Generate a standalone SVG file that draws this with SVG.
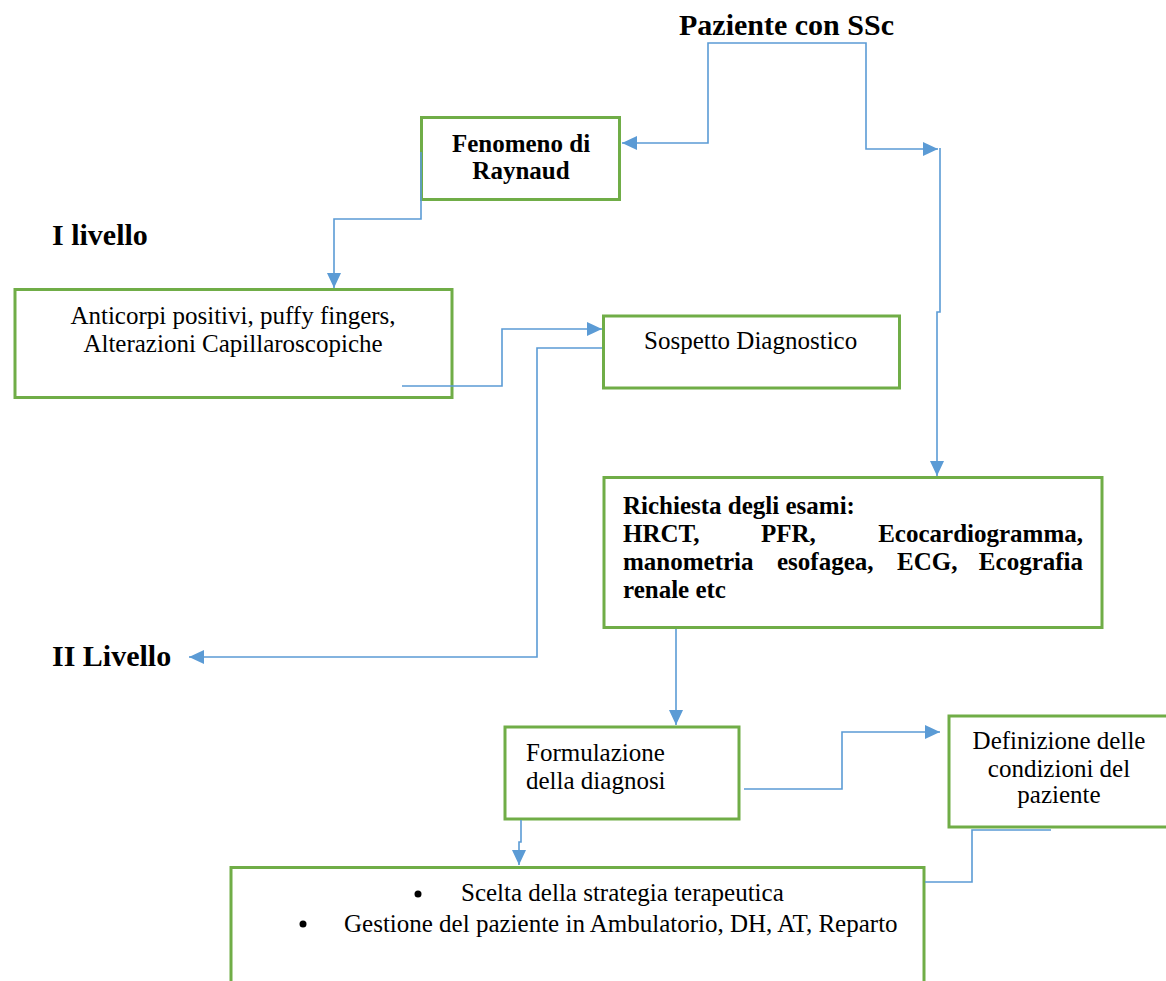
<svg xmlns="http://www.w3.org/2000/svg" width="1166" height="981" viewBox="0 0 1166 981">
<style>
.box{fill:#fff;stroke:#70AD47;stroke-width:3}
.con{fill:none;stroke:#5B9BD5;stroke-width:1.6}
.t{font-family:"Liberation Serif","Times New Roman",serif;font-size:25px;fill:#000}
.b{font-weight:bold}
.h{font-family:"Liberation Serif","Times New Roman",serif;font-size:30px;font-weight:bold;fill:#000}
.m{text-anchor:middle}
.e{text-anchor:end}
</style>
<defs>
<marker id="arr" markerUnits="userSpaceOnUse" markerWidth="16" markerHeight="14" refX="15" refY="7" orient="auto">
<path d="M0,0 L15,7 L0,14 Z" fill="#5B9BD5"/>
</marker>
</defs>
<rect width="1166" height="981" fill="#fff"/>
<g id="labels">
<text class="h" x="679" y="35">Paziente con SSc</text>
<text class="h" x="52" y="245">I livello</text>
<text class="h" x="52" y="666">II Livello</text>
</g>
<g id="fenomeno">
<rect class="box" x="421.5" y="117.5" width="198" height="82"/>
<text class="t b m" x="521" y="151.5">Fenomeno di</text>
<text class="t b m" x="521" y="178.5">Raynaud</text>
</g>
<g id="anticorpi">
<rect class="box" x="15" y="289.5" width="437" height="108"/>
<text class="t m" x="233" y="324">Anticorpi positivi, puffy fingers,</text>
<text class="t m" x="233" y="352">Alterazioni Capillaroscopiche</text>
</g>
<g id="sospetto">
<rect class="box" x="603.5" y="316" width="296" height="72"/>
<text class="t" x="644" y="349">Sospetto Diagnostico</text>
</g>
<g id="richiesta">
<rect class="box" x="604" y="477.5" width="498" height="150"/>
<text class="t b" x="623" y="513.5">Richiesta degli esami:</text>
<text class="t b" x="623" y="541.5">HRCT,</text>
<text class="t b" x="761" y="541.5">PFR,</text>
<text class="t b e" x="1083" y="541.5">Ecocardiogramma,</text>
<text class="t b" x="623" y="570">manometria</text>
<text class="t b" x="777" y="570">esofagea,</text>
<text class="t b" x="897" y="570">ECG,</text>
<text class="t b e" x="1083" y="570">Ecografia</text>
<text class="t b" x="623" y="598">renale etc</text>
</g>
<g id="formulazione">
<rect class="box" x="505" y="727" width="234" height="92"/>
<text class="t" x="526" y="761">Formulazione</text>
<text class="t" x="526" y="789">della diagnosi</text>
</g>
<g id="definizione">
<rect class="box" x="949" y="716" width="222" height="111"/>
<text class="t m" x="1059" y="749">Definizione delle</text>
<text class="t m" x="1059" y="777">condizioni del</text>
<text class="t m" x="1059" y="803">paziente</text>
</g>
<g id="gestione">
<rect class="box" x="231" y="867.5" width="693" height="130"/>
<circle cx="418" cy="894" r="3.5" fill="#000"/>
<text class="t" x="461" y="901">Scelta della strategia terapeutica</text>
<circle cx="303" cy="924" r="3.5" fill="#000"/>
<text class="t" x="344" y="932">Gestione del paziente in Ambulatorio, DH, AT, Reparto</text>
</g>
<g id="connectors">
<path class="con" d="M787,43 H708 V143 H622" marker-end="url(#arr)"/>
<path class="con" d="M787,43 H866 V149 H938" marker-end="url(#arr)"/>
<path class="con" d="M940,148 V312 H937 V476" marker-end="url(#arr)"/>
<path class="con" d="M421,152 V219 H334 V288" marker-end="url(#arr)"/>
<path class="con" d="M402,386 H502 V329 H602" marker-end="url(#arr)"/>
<path class="con" d="M602,348 H537 V657 H189" marker-end="url(#arr)"/>
<path class="con" d="M676,629 V725" marker-end="url(#arr)"/>
<path class="con" d="M744,789 H842 V732 H940" marker-end="url(#arr)"/>
<path class="con" d="M521,820 V842 H519 V865" marker-end="url(#arr)"/>
<path class="con" d="M1051,830 H972 V882 H925"/>
</g>
</svg>
